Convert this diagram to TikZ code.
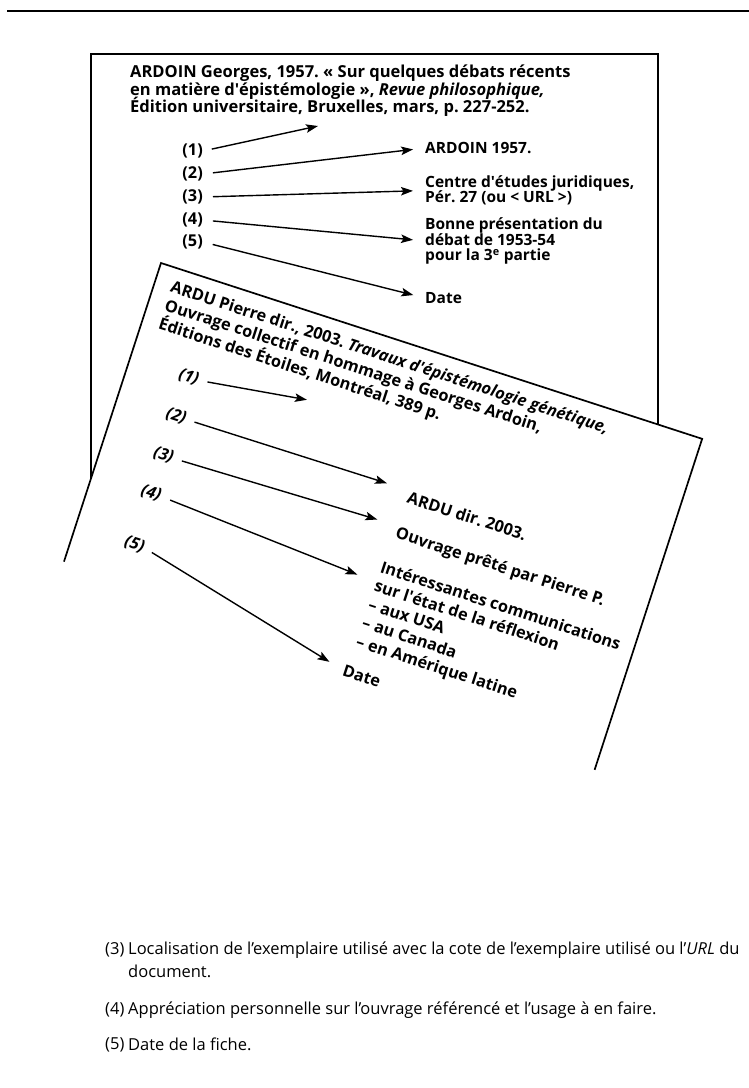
\documentclass[tikz,border=0pt]{standalone}
\usepackage{fontspec}
\setmainfont{Open Sans}
\frenchspacing
\usetikzlibrary{arrows.meta}
\newcommand\tightls{\lineskiplimit=-20pt\relax}
\tikzset{
  lb/.style={inner sep=0pt,font=\bfseries\fontsize{16.3}{15}\selectfont},
  flb/.style={inner sep=0pt,font=\bfseries\itshape\fontsize{16.3}{19.5}\selectfont},
  tx/.style={inner sep=0pt,align=left,font={\bfseries\fontsize{15.5}{15.5}\selectfont\tightls}},
  hx/.style={inner sep=0pt,align=left,font={\bfseries\fontsize{16.5}{17.5}\selectfont\tightls}},
  ftx/.style={inner sep=0pt,align=left,font={\bfseries\fontsize{16.3}{19.5}\selectfont\tightls}},
  bt/.style={inner sep=0pt,align=left,font=\fontsize{16.5}{23}\selectfont},
  ar/.style={-{Stealth[length=12pt,width=8.5pt,inset=2.5pt]},line width=1.4pt},
  rim/.style={line width=1.7pt},
}
\begin{document}
\begin{tikzpicture}[x=1pt,y=-1pt]
\useasboundingbox (0,0) rectangle (749,1088);
\draw[line width=2pt] (7,11) -- (749,11);
% back card
\draw[rim] (91,560) rectangle (658,54);
\node[hx,anchor=north west] (hdr) at (130,65) {ARDOIN Georges, 1957. « Sur quelques débats récents\\
  en matière d\textquotesingle épistémologie », \textit{Revue philosophique,}\\
  Édition universitaire, Bruxelles, mars, p. 227-252.};
\node[lb,anchor=east] (l1) at (203,151) {(1)};
\node[lb,anchor=east] (l2) at (203,174) {(2)};
\node[lb,anchor=east] (l3) at (203,197) {(3)};
\node[lb,anchor=east] (l4) at (203,220) {(4)};
\node[lb,anchor=east] (l5) at (203,242) {(5)};
\coordinate (c1) at (318,126);
\node[tx,anchor=west] (t2) at (425,148) {ARDOIN 1957.};
\node[tx,anchor=west] (t3) at (425,190.5) {Centre d\textquotesingle études juridiques,\\ Pér. 27 (ou < URL >)};
\node[tx,anchor=west] (t4) at (425,241) {Bonne présentation du\\ débat de 1953-54\\ pour la 3\textsuperscript{e} partie};
\node[tx,anchor=west] (t5) at (425,298) {Date};
\draw[ar,shorten <=9pt] (l1.east) -- (c1);
\draw[ar,shorten <=10pt,shorten >=12pt] (l2.east) -- (t2.west);
\draw[ar,shorten <=10pt,shorten >=12pt] (l3.east) -- (t3.west);
\draw[ar,shorten <=10pt,shorten >=12pt] (l4.east) -- (t4.west);
\draw[ar,shorten <=10pt,shorten >=12pt] (l5.east) -- (t5.west);
% front card
\begin{scope}[shift={(161,263)},rotate=-18,transform shape]
\fill[white] (0,0) -- (569,0) -- (569,348) -- (0,314) -- cycle;
\draw[rim] (0,314) -- (0,0) -- (569,0) -- (569,348);
\node[ftx,anchor=north west] (fhdr) at (17,12) {ARDU Pierre dir., 2003. \textit{Travaux d\textquotesingle épistémologie génétique,}\\
  Ouvrage collectif en hommage à Georges Ardoin,\\
  Éditions des Étoiles, Montréal, 389 p.};
\node[flb,anchor=east] (f1) at (72,100) {(1)};
\node[flb,anchor=east] (f2) at (72,141) {(2)};
\node[flb,anchor=east] (f3) at (72,182) {(3)};
\node[flb,anchor=east] (f4) at (72,222) {(4)};
\node[flb,anchor=east] (f5) at (72,276) {(5)};
\coordinate (fc1) at (181,85);
\node[ftx,anchor=west] (ft2) at (307,146) {ARDU dir. 2003.};
\node[ftx,anchor=west] (ft3) at (307,185) {Ouvrage prêté par Pierre P.};
\node[ftx,anchor=north west] (ft4) at (303,214) {Intéressantes communications\\ sur l\textquotesingle état de la réflexion\\
  – aux USA\\ – au Canada\\ – en Amérique latine};
\node[ftx,anchor=west] (ft5) at (299,331) {Date};
\draw[ar,shorten <=9pt] (f1.east) -- (fc1);
\draw[ar,shorten <=9pt,shorten >=24pt] (f2.east) -- (ft2.north west);
\draw[ar,shorten <=9pt,shorten >=22pt] (f3.east) -- (ft3.north west);
\draw[ar,shorten <=10pt,shorten >=20pt] (f4.east) -- (ft4.169);
\draw[ar,shorten <=9pt,shorten >=16pt] (f5.east) -- (ft5.west);
\end{scope}
% notes below
\node[bt,anchor=north west] (n3) at (105,942) {(3)};
\node[bt,anchor=north west] (p3) at (128,942) {Localisation de l’exemplaire utilisé avec la cote de l’exemplaire utilisé ou l’\textit{URL} du\\ document.};
\node[bt,anchor=north west] (n4) at (105,1002) {(4)};
\node[bt,anchor=north west] (p4) at (128,1002) {Appréciation personnelle sur l’ouvrage référencé et l’usage à en faire.};
\node[bt,anchor=north west] (n5) at (105,1038) {(5)};
\node[bt,anchor=north west] (p5) at (128,1038) {Date de la fiche.};
\end{tikzpicture}
\end{document}
